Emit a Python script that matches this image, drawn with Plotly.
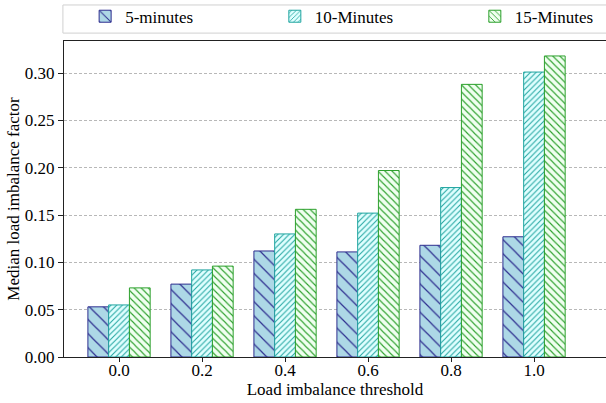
import plotly.graph_objects as go

thresholds = ["0.0", "0.2", "0.4", "0.6", "0.8", "1.0"]
series_names = ["5-minutes", "10-Minutes", "15-Minutes"]
five_min = [0.053, 0.077, 0.112, 0.111, 0.118, 0.127]
ten_min = [0.055, 0.092, 0.130, 0.152, 0.179, 0.301]
fifteen_min = [0.073, 0.096, 0.156, 0.197, 0.288, 0.318]
y_ticks = [0.00, 0.05, 0.10, 0.15, 0.20, 0.25, 0.30]

styles = [
    dict(fill="#add8e6", edge="#2e2e8f", shape="\\", size=10, sol=0.12),
    dict(fill="#e0ffff", edge="#20a5a0", shape="/", size=4, sol=0.25),
    dict(fill="#f0fff0", edge="#2ca02c", shape="\\", size=5, sol=0.22),
]
legend_ids = ["legend", "legend2", "legend3"]
legend_x = [0.039, 0.389, 0.758]

font = '"Liberation Serif", "Times New Roman", Times, "DejaVu Serif", serif'
fig = go.Figure()
for name, vals, st, lid in zip(series_names, [five_min, ten_min, fifteen_min], styles, legend_ids):
    fig.add_trace(go.Bar(
        x=thresholds, y=vals, name=name, legend=lid,
        marker=dict(
            color=st["fill"],
            line=dict(color=st["edge"], width=1),
            pattern=dict(shape=st["shape"], size=st["size"], solidity=st["sol"],
                         fgcolor=st["edge"], bgcolor=st["fill"], fillmode="replace"),
        ),
    ))

legend_common = dict(orientation="h", xanchor="left", y=1.02, yanchor="bottom",
                     borderwidth=0, bgcolor="rgba(0,0,0,0)",
                     font=dict(family=font, size=17, color="black"))
legends = {}
for lid, lx in zip(legend_ids, legend_x):
    legends[lid] = dict(legend_common, x=lx)

fig.update_layout(
    width=606, height=403,
    margin=dict(l=64, r=0, t=41, b=46, autoexpand=False),
    paper_bgcolor="white", plot_bgcolor="white",
    font=dict(family=font, size=17, color="black"),
    barmode="group", bargap=0.25, bargroupgap=0,
    showlegend=True,
    **legends,
    shapes=[dict(type="rect", xref="paper", yref="paper",
                 x0=-0.002, x1=1.02, y0=1.025, y1=1.114,
                 line=dict(color="#d0d0d0", width=1), fillcolor="white", layer="below")],
    xaxis=dict(
        type="category", range=[-0.663, 5.867],
        showline=True, linecolor="#222", linewidth=1, mirror=True,
        ticks="outside", ticklen=4, tickcolor="#222",
        ticklabelstandoff=-6,
        showgrid=False,
        tickfont=dict(family=font, size=17),
        title=dict(text="Load imbalance threshold", standoff=0,
                   font=dict(family=font, size=17)),
    ),
    yaxis=dict(
        range=[0, 0.3338], tickvals=y_ticks,
        tickformat=".2f",
        showline=True, linecolor="#222", linewidth=1,
        ticks="outside", ticklen=5, tickcolor="#222",
        showgrid=True, gridcolor="#b8b8b8", griddash="3px,2px", gridwidth=1,
        zeroline=False,
        tickfont=dict(family=font, size=17),
        title=dict(text="Median load imbalance factor", standoff=0,
                   font=dict(family=font, size=17)),
    ),
)

fig.write_html("out.html")
